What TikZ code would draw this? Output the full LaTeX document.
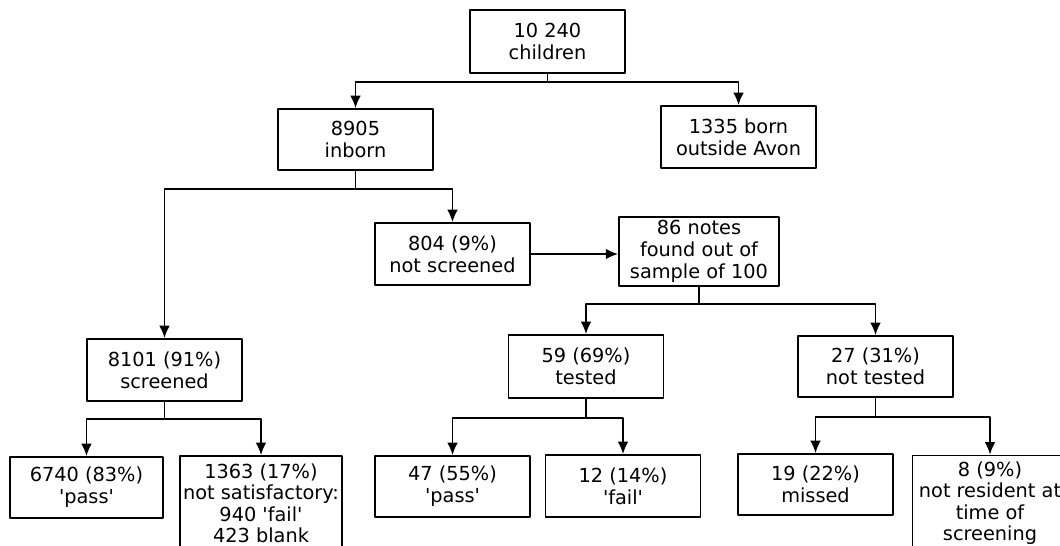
\documentclass[tikz,border=0pt]{standalone}
\usepackage{fontspec}
\setmainfont{DejaVu Sans}
\usetikzlibrary{arrows.meta}
\newcommand{\quoted}[1]{\textquotesingle#1\textquotesingle}
\begin{document}
\begin{tikzpicture}[x=0.02cm, y=-0.02cm, font=\fontsize{11}{12.6}\selectfont, line join=round, line cap=round, >={Latex[length=7pt,width=6pt]}]
	\tikzset{box/.style={draw, line width=1.1pt, align=center, inner sep=1pt, minimum width=3.1cm, minimum height=1.24cm},
		tallbox/.style={box, minimum height=1.9cm, font=\fontsize{11}{12.2}\selectfont},
		link/.style={->, line width=0.8pt}}
	\useasboundingbox (0,0) rectangle (1060,546);
	\clip (0,0) rectangle (1060,546);
	% Boxes
	\node[box, minimum height=1.26cm] (children) at (547.5,41.5) {10 240\\children};
	\node[box, minimum height=1.22cm] (inborn) at (355.5,139.5) {8905\\inborn};
	\node[box] (outside) at (738.5,137) {1335 born\\outside Avon};
	\node[box] (notscr) at (452.5,254) {804 (9\%)\\not screened};
	\node[box, minimum width=3.2cm, minimum height=1.38cm] (notes) at (699,251.5) {86 notes\\found out of\\sample of 100};
	\node[box] (screened) at (164.5,370) {8101 (91\%)\\screened};
	\node[box, minimum height=1.26cm] (tested) at (586,366.5) {59 (69\%)\\tested};
	\node[box, minimum height=1.22cm] (nottested) at (875.5,366.5) {27 (31\%)\\not tested};
	\node[box, minimum width=3.06cm, minimum height=1.22cm] (passA) at (86.5,487.5) {6740 (83\%)\\\quoted{pass}};
	\node[tallbox, minimum width=3.24cm] (unsat) at (261,503.5) {1363 (17\%)\\not satisfactory:\\940 \quoted{fail}\\423 blank};
	\node[box, minimum height=1.22cm] (passB) at (452.5,486.5) {47 (55\%)\\\quoted{pass}};
	\node[box, minimum height=1.24cm] (failB) at (623,486) {12 (14\%)\\\quoted{fail}};
	\node[box, minimum height=1.22cm] (missed) at (815.5,484.5) {19 (22\%)\\missed};
	\node[tallbox] (resident) at (990,503) {8 (9\%)\\not resident at\\time of\\screening};
	% Connectors
	\draw[link] (children.south) -- ++(0,8) -| (inborn.north);
	\draw[link] (children.south) -- ++(0,8) -| (outside.north);
	\draw[link] (inborn.south) -- ++(0,18) -| (screened.north);
	\draw[link] (inborn.south) -- ++(0,18) -| (notscr.north);
	\draw[link] (notscr.east) -- (notscr.east -| notes.west);
	\draw[link] (notes.south) -- ++(0,17) -| (tested.north);
	\draw[link] (notes.south) -- ++(0,17) -| (nottested.north);
	\draw[link] (screened.south) -- ++(0,17) -| (passA.north);
	\draw[link] (screened.south) -- ++(0,17) -| (unsat.north);
	\draw[link] (tested.south) -- ++(0,19) -| (passB.north);
	\draw[link] (tested.south) -- ++(0,19) -| (failB.north);
	\draw[link] (nottested.south) -- ++(0,19) -| (missed.north);
	\draw[link] (nottested.south) -- ++(0,19) -| (resident.north);
\end{tikzpicture}
\end{document}
